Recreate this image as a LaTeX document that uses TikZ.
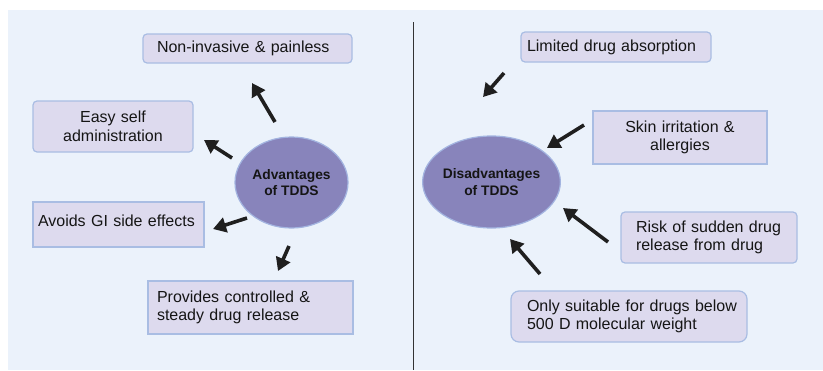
\documentclass[tikz,border=0pt]{standalone}
\usepackage{fontspec}
\setmainfont{Liberation Sans}
\usetikzlibrary{arrows.meta,shapes.geometric}
\definecolor{bgc}{HTML}{EBF2FB}
\definecolor{boxfill}{HTML}{DDDAEE}
\definecolor{boxline}{HTML}{A9BDE3}
\definecolor{ellfill}{HTML}{8884BB}
\definecolor{ellline}{HTML}{A3B4E0}
\definecolor{txt}{HTML}{151515}
\tikzset{
  box/.style={draw=boxline, fill=boxfill, line width=1.2pt, text=txt,
    font=\fontsize{16}{18.5}\selectfont, inner ysep=2pt, align=left},
  rbox/.style={box, rounded corners=4pt},
  hub/.style={ellipse, draw=ellline, fill=ellfill, line width=1.2pt, text=txt,
    font=\fontsize{13.8}{16.5}\selectfont\bfseries, align=center, inner sep=0pt,
    minimum width=#1},
  arr/.style={line width=3.6pt, draw=black!88, -{Triangle[width=15pt,length=13pt]}}
}
\begin{document}
\begin{tikzpicture}[x=1pt,y=-1pt]
\useasboundingbox (0,0) rectangle (823,370);
\fill[white] (0,0) rectangle (823,370);
\fill[bgc] (8,10) rectangle (823,370);
\draw[line width=1.5pt, draw=black!80] (413.5,22) -- (413.5,370);

% hubs
\node[hub=113pt, minimum height=91pt] (adv) at (291.5,182.5) {Advantages\\of TDDS};
\node[hub=117pt, minimum height=92pt] (dis) at (491.5,182) {Disadvantages\\of TDDS};

% left boxes
\node[rbox, inner xsep=14pt, text width=181pt, minimum height=29pt] (b1) at (247.5,48.5) {Non-invasive \& painless};
\node[rbox, inner xsep=5pt, text width=150pt, minimum height=51pt, align=center] (b2) at (113,126.5) {Easy self\\administration};
\node[box, inner xsep=5pt, text width=161pt, minimum height=45pt] (b3) at (118.5,224.5) {Avoids GI side effects\\[-11.5pt]\mbox{}};
\node[box, inner xsep=9pt, text width=187pt, minimum height=53pt] (b4) at (250.5,307.5) {Provides controlled \&\\steady drug release};

% right boxes
\node[rbox, inner xsep=6pt, text width=178pt, minimum height=30pt] (c1) at (616,47) {Limited drug absorption};
\node[box, inner xsep=5pt, text width=164pt, minimum height=53pt, align=center] (c2) at (680,137.5) {Skin irritation \&\\allergies};
\node[rbox, inner xsep=15pt, text width=146pt, minimum height=51pt] (c3) at (709,237.5) {Risk of sudden drug\\release from drug};
\node[rbox, rounded corners=8pt, inner xsep=16pt, text width=204pt, minimum height=51pt] (c4) at (629,316.5) {\mbox{Only suitable for drugs below}\\\mbox{500 D molecular weight}};

% arrow end points
\coordinate (a1t) at (275,122); \coordinate (a1h) at (252,83);
\coordinate (a2t) at (232,158); \coordinate (a2h) at (204,140);
\coordinate (a3t) at (247,218); \coordinate (a3h) at (213,229);
\coordinate (a4t) at (289,246); \coordinate (a4h) at (278,271);
\coordinate (d1t) at (504,73);  \coordinate (d1h) at (483,97);
\coordinate (d2t) at (584,125); \coordinate (d2h) at (547,148);
\coordinate (d3t) at (608,242); \coordinate (d3h) at (563,208);
\coordinate (d4t) at (540,274); \coordinate (d4h) at (510,239);

\draw[arr] (a1t) -- (a1h);
\draw[arr] (a2t) -- (a2h);
\draw[arr] (a3t) -- (a3h);
\draw[arr] (a4t) -- (a4h);
\draw[arr] (d1t) -- (d1h);
\draw[arr] (d2t) -- (d2h);
\draw[arr] (d3t) -- (d3h);
\draw[arr] (d4t) -- (d4h);
\end{tikzpicture}
\end{document}
